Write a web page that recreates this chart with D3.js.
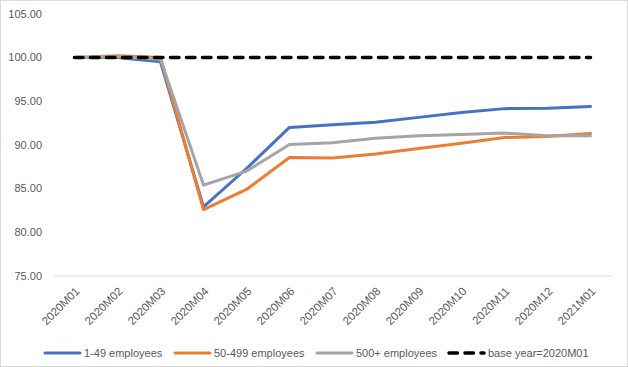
<!DOCTYPE html>
<html>
<head>
<meta charset="utf-8">
<script src="https://cdn.jsdelivr.net/npm/d3@7"></script>
<style>
  body { margin: 0; background: #fff; }
  text { font-family: "Liberation Sans", Arial, sans-serif; fill: #595959; }
</style>
</head>
<body>
<svg id="svg" width="628" height="367"></svg>
<script>
// Months on the x axis
const months = ["2020M01", "2020M02", "2020M03", "2020M04", "2020M05", "2020M06", "2020M07",
  "2020M08", "2020M09", "2020M10", "2020M11", "2020M12", "2021M01"];

// Index values
const small = [100, 100.0, 99.5, 82.9, 87.3, 92.0, 92.3, 92.6, 93.15, 93.7, 94.15, 94.2, 94.4];
const medium = [100, 100.2, 100.0, 82.6, 84.9, 88.55, 88.5, 88.95, 89.6, 90.2, 90.85, 90.95, 91.3];
const large = [100, 100.1, 99.8, 85.4, 87.0, 90.05, 90.25, 90.75, 91.05, 91.2, 91.35, 91.05, 91.05];
const base = months.map(() => 100);

const yTicks = [75, 80, 85, 90, 95, 100, 105];

const series = [
  { name: "1-49 employees", values: small, color: "#4472C4", dash: null },
  { name: "50-499 employees", values: medium, color: "#ED7D31", dash: null },
  { name: "500+ employees", values: large, color: "#A5A5A5", dash: null },
  { name: "base year=2020M01", values: base, color: "#000000", dash: "8.5 7.5" }
];

const attr = {
  width: 628,
  height: 367,
  left: 53,
  right: 612,
  top: 13.8,
  bottom: 276
};

const svg = d3.select("svg#svg");

// chart border
svg.append("rect")
  .attr("x", 0.5).attr("y", 0.5)
  .attr("width", attr.width - 1).attr("height", attr.height - 1)
  .style("fill", "#fff").style("stroke", "#d9d9d9");

const x = d3.scalePoint()
  .domain(months)
  .range([attr.left, attr.right])
  .padding(0.5);

const y = d3.scaleLinear()
  .domain([75, 105])
  .range([attr.bottom, attr.top]);

// y labels
svg.append("g").selectAll("text")
  .data(yTicks)
  .enter()
  .append("text")
  .attr("x", 42)
  .attr("y", d => y(d))
  .attr("dy", "0.35em")
  .attr("text-anchor", "end")
  .style("font-size", "11px")
  .text(d => d.toFixed(2));

// x axis line
svg.append("line")
  .attr("x1", attr.left).attr("x2", attr.right)
  .attr("y1", y(75)).attr("y2", y(75))
  .style("stroke", "#d9d9d9").style("stroke-width", 1);

// x labels
svg.append("g").selectAll("text")
  .data(months)
  .enter()
  .append("text")
  .attr("transform", d => "translate(" + (x(d) + 3) + "," + (y(75) + 13) + ") rotate(-45)")
  .attr("text-anchor", "end")
  .attr("dy", "0.35em")
  .style("font-size", "11.5px")
  .text(d => d);

// lines
const line = d3.line()
  .x((d, i) => x(months[i]))
  .y(d => y(d));

svg.append("g").selectAll("path")
  .data(series)
  .enter()
  .append("path")
  .attr("d", d => line(d.values))
  .style("fill", "none")
  .style("stroke", d => d.color)
  .style("stroke-width", d => d.dash ? 3.5 : 3)
  .style("stroke-linejoin", "round")
  .style("stroke-linecap", "round")
  .style("stroke-dasharray", d => d.dash);

// legend
const legendX = [45, 175, 317, 449];
const legend = svg.append("g").selectAll("g")
  .data(series)
  .enter()
  .append("g")
  .attr("transform", (d, i) => "translate(" + legendX[i] + ",353)");

legend.append("line")
  .attr("x1", 0).attr("x2", 35)
  .style("stroke", d => d.color)
  .style("stroke-width", d => d.dash ? 3.5 : 3)
  .style("stroke-linecap", "round")
  .style("stroke-dasharray", d => d.dash);

legend.append("text")
  .attr("x", 39)
  .attr("dy", "0.35em")
  .style("font-size", "11px")
  .text(d => d.name);
</script>
</body>
</html>
